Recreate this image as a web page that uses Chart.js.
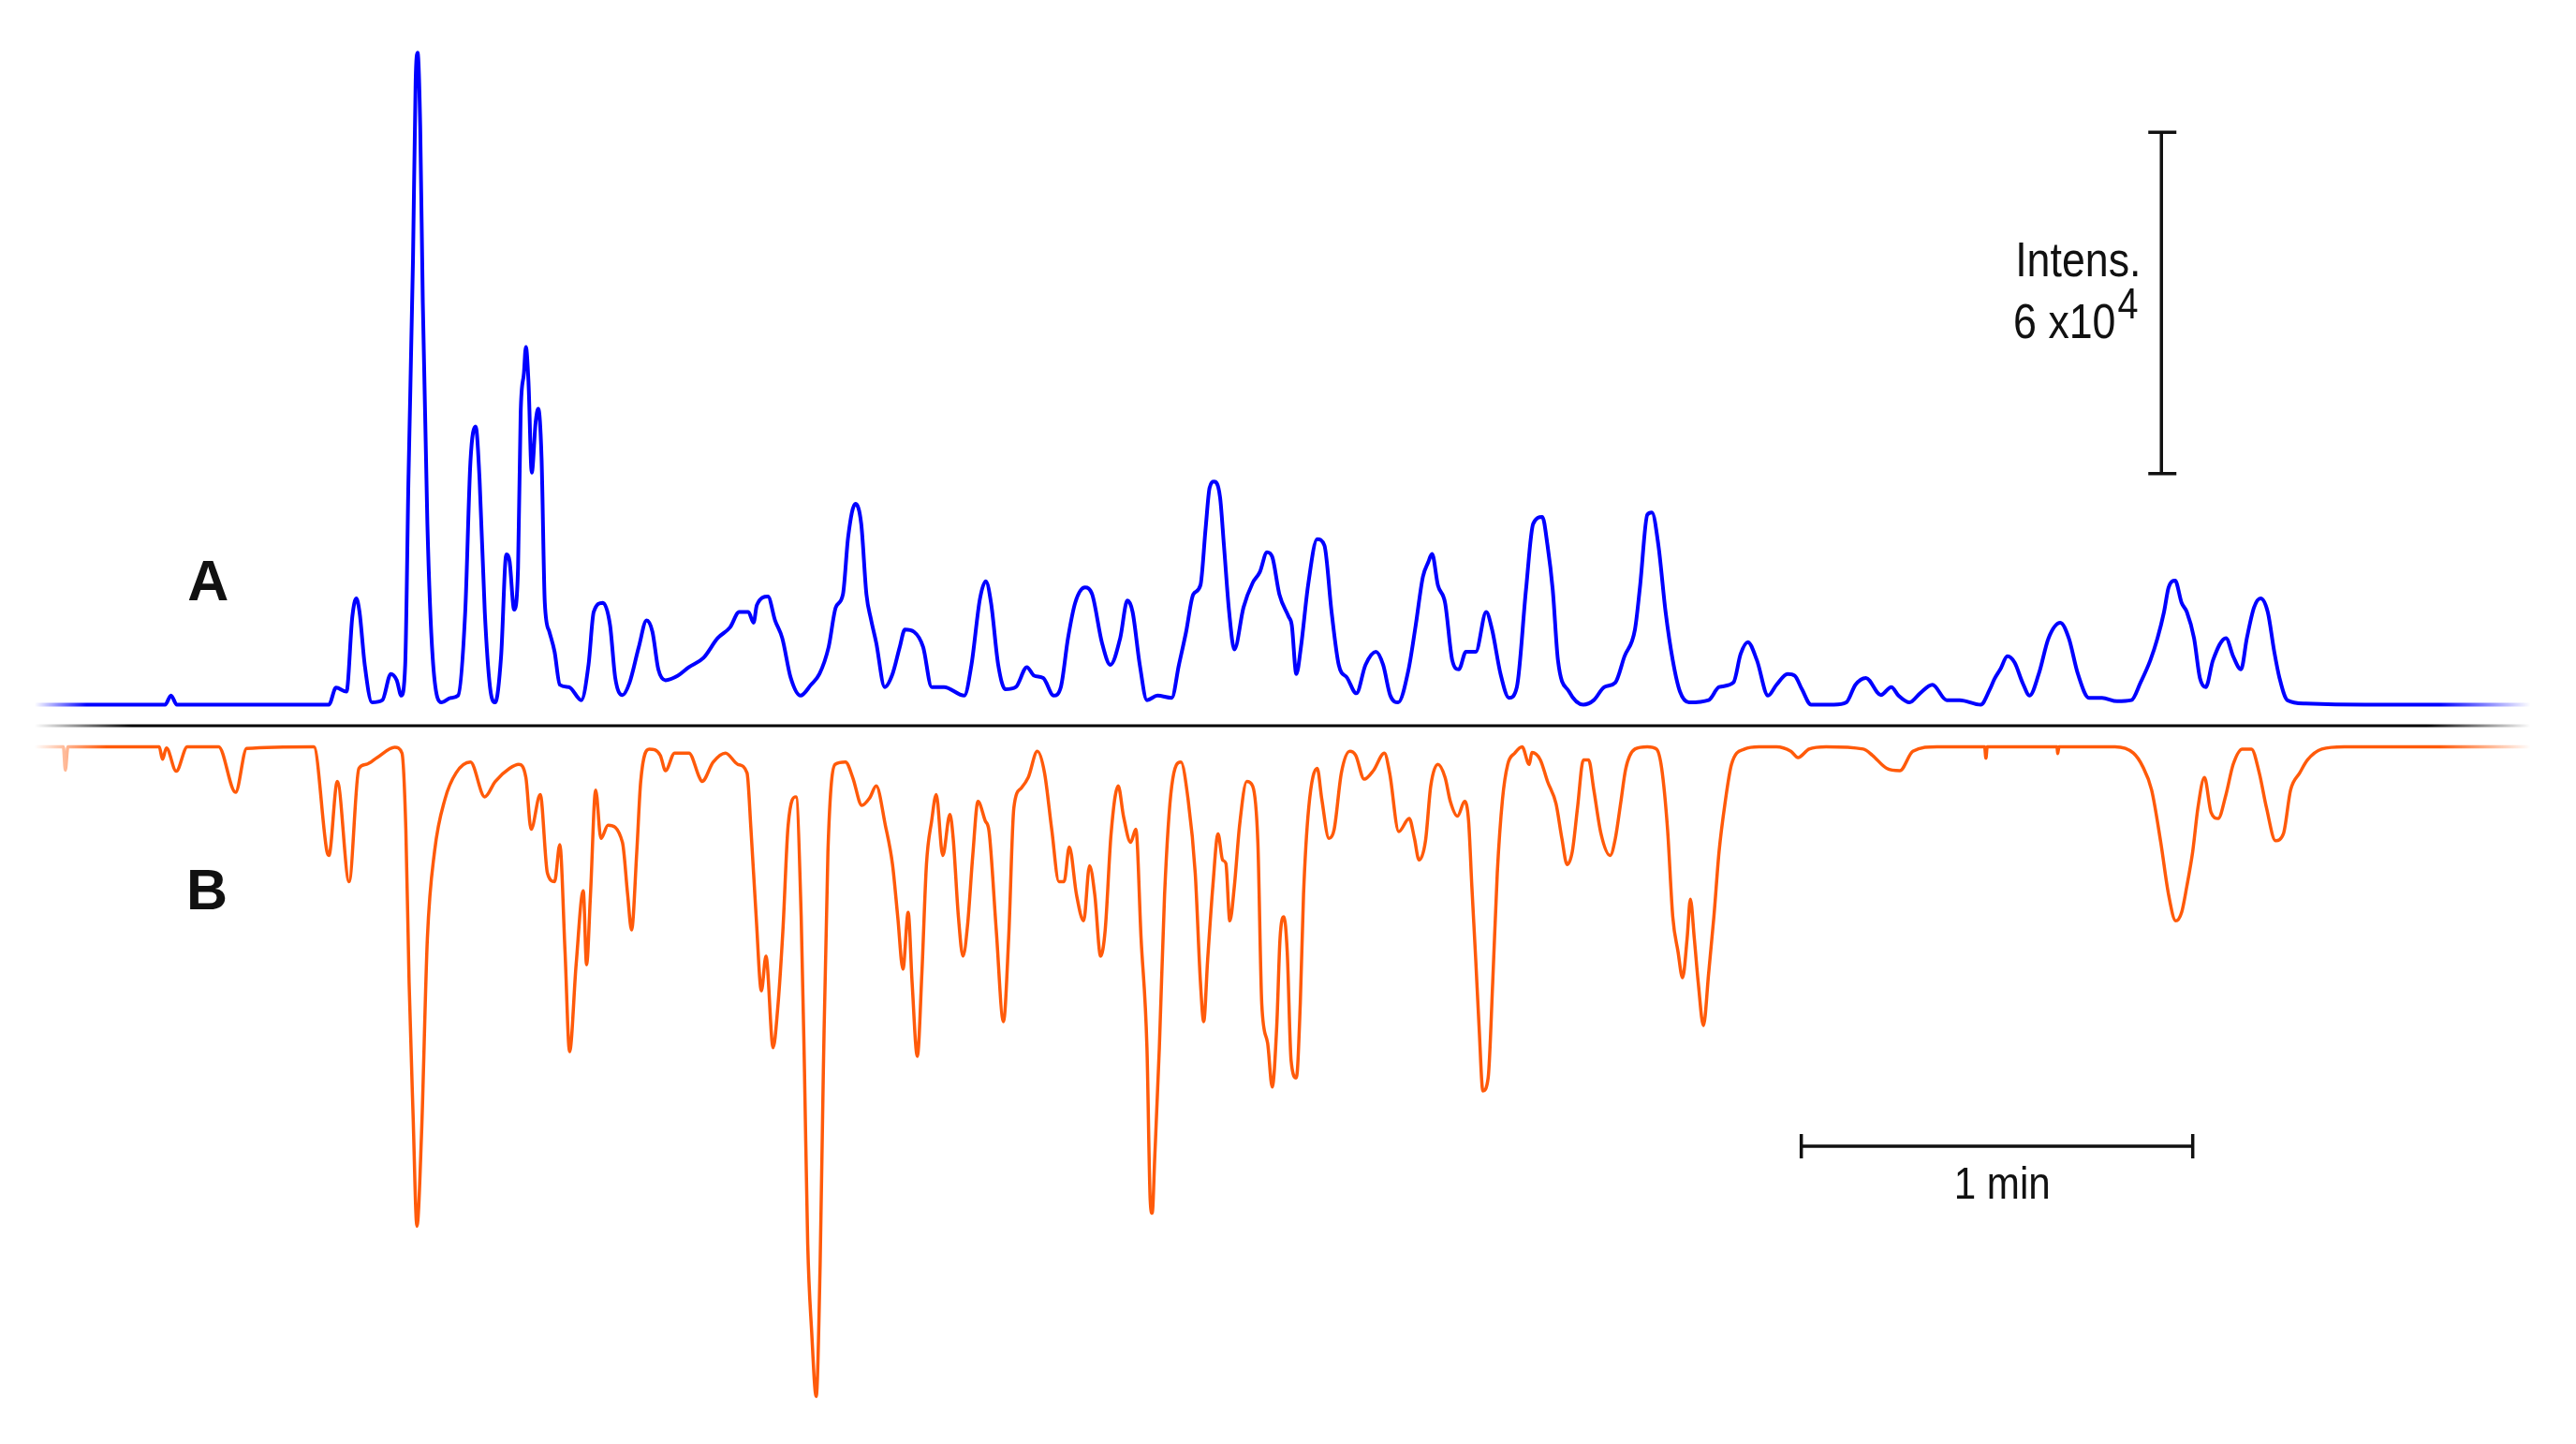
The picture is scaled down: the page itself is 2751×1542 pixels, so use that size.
<!DOCTYPE html>
<html>
<head>
<meta charset="utf-8">
<title>Chromatogram A / B</title>
<script src="https://cdn.jsdelivr.net/npm/chart.js@4.4.1/dist/chart.umd.min.js"></script>
<style>
  html, body { margin: 0; padding: 0; background: #fff; overflow: hidden; }
  #wrap { position: relative; width: 2751px; height: 1542px; }
</style>
</head>
<body>
<div id="wrap"><canvas id="chrom"></canvas></div>
<script>
// retention time in seconds, intensity in units of 10^4 counts

// trace A (upper, blue)
const timeA = [
  0, 7, 20.0, 20.9, 21.8, 45.1, 46.2, 47.8, 48.7, 49.3,
  49.8, 50.6, 51.7, 53.3, 54.6, 55.5, 56.2, 56.8, 57.3, 58.0,
  58.4, 58.7, 59.1, 59.5, 60.2, 61.0, 62.4, 63.8, 64.9, 66.0,
  66.8, 67.6, 68.2, 69.0, 69.8, 70.6, 71.5, 72.3, 72.8, 73.5,
  74.1, 74.5, 75.0, 75.3, 75.7, 76.2, 76.8, 77.2, 77.7, 78.2,
  78.9, 79.7, 80.5, 81.9, 83.8, 84.9, 85.7, 87.1, 88.2, 89.0,
  90.1, 91.2, 92.6, 93.8, 94.7, 95.6, 96.7, 98.6, 100.3, 102.5,
  104.7, 106.6, 108.0, 109.4, 110.2, 110.7, 112.4, 113.5, 114.6, 115.9,
  117.4, 119.0, 120.3, 121.7, 122.8, 123.9, 124.7, 125.8, 126.7, 127.5,
  128.2, 129.0, 130.3, 131.5, 132.6, 133.4, 134.8, 136.2, 137.5, 139.4,
  142.5, 143.6, 144.9, 145.8, 146.6, 147.7, 148.8, 150.4, 152.1, 153.2,
  154.6, 156.2, 157.3, 158.4, 159.5, 161.0, 162.1, 163.6, 164.9, 166.4,
  167.5, 168.3, 169.4, 170.5, 172.1, 174.3, 175.4, 176.5, 177.6, 178.7,
  179.5, 180.1, 180.8, 181.7, 182.3, 183.1, 183.9, 185.3, 186.7, 187.8,
  188.9, 189.7, 190.8, 192.2, 192.7, 193.4, 194.1, 195.2, 196.6, 197.7,
  198.8, 199.9, 201.2, 202.6, 204.0, 205.6, 206.7, 207.8, 209.0, 210.6,
  211.7, 212.8, 213.6, 214.2, 215.1, 216.2, 217.3, 218.3, 219.4, 220.9,
  222.5, 223.4, 224.7, 226.0, 227.2, 228.6, 229.7, 231.1, 231.9, 232.7,
  233.5, 235.2, 237.4, 239.0, 240.6, 242.3, 243.7, 245.3, 246.1, 247.2,
  247.9, 248.9, 250.0, 251.1, 252.2, 253.6, 256.6, 258.2, 260.4, 261.5,
  262.6, 264.0, 265.7, 267.0, 268.7, 269.8, 270.9, 272.3, 275.8, 277.7,
  279.1, 280.7, 283.0, 284.6, 285.7, 287.4, 289.0, 290.9, 293.1, 295.1,
  298.3, 299.7, 300.4, 301.3, 302.4, 303.5, 304.7, 305.8, 307.2, 308.7,
  310.5, 311.8, 313.2, 314.9, 316.9, 319.2, 321.4, 322.8, 324.3, 325.4,
  326.4, 327.1, 328.1, 329.1, 329.9, 331.0, 331.9, 332.8, 333.9, 335.9,
  337.0, 338.2, 339.1, 340.2, 341.2, 342.3, 343.3, 344.1, 345.3, 348.1,
  357.2, 382.6
];
const intensA = [
  0, 0, 0, 0.16, 0, 0, 0.30, 0.23, 1.55, 1.87,
  1.63, 0.70, 0.04, 0.08, 0.54, 0.43, 0.16, 0.70, 3.96, 7.85,
  10.95, 11.46, 10.18, 7.07, 3.18, 0.85, 0.04, 0.12, 0.16, 1.63,
  4.27, 4.89, 3.96, 1.63, 0.31, 0.04, 0.85, 2.64, 2.52, 1.67,
  2.41, 5.13, 5.83, 6.29, 5.67, 4.08, 4.97, 5.20, 4.35, 1.79,
  1.28, 0.93, 0.35, 0.31, 0.08, 0.70, 1.63, 1.79, 1.40, 0.47,
  0.17, 0.39, 1.01, 1.48, 1.28, 0.62, 0.43, 0.51, 0.66, 0.82,
  1.17, 1.36, 1.63, 1.63, 1.44, 1.75, 1.90, 1.48, 1.17, 0.47,
  0.16, 0.35, 0.54, 1.01, 1.71, 1.94, 2.95, 3.53, 3.18, 1.94,
  1.50, 1.09, 0.31, 0.54, 1.01, 1.32, 1.28, 1.01, 0.31, 0.31,
  0.16, 0.70, 1.86, 2.17, 1.79, 0.70, 0.27, 0.31, 0.66, 0.51,
  0.47, 0.16, 0.31, 1.17, 1.79, 2.06, 1.94, 1.09, 0.70, 1.17,
  1.83, 1.63, 0.70, 0.08, 0.16, 0.12, 0.70, 1.28, 1.94, 2.10,
  3.11, 3.81, 3.92, 3.65, 2.80, 1.63, 0.97, 1.71, 2.14, 2.33,
  2.68, 2.60, 1.94, 1.55, 1.40, 0.54, 1.01, 2.10, 2.91, 2.80,
  1.63, 0.70, 0.47, 0.20, 0.70, 0.93, 0.70, 0.16, 0.04, 0.62,
  1.40, 2.25, 2.50, 2.65, 2.10, 1.79, 0.78, 0.62, 0.93, 0.93,
  1.63, 1.32, 0.54, 0.12, 0.31, 2.02, 3.18, 3.30, 2.80, 2.02,
  0.78, 0.23, 0, 0.08, 0.31, 0.39, 0.85, 1.32, 2.10, 3.34,
  3.38, 2.80, 1.63, 0.78, 0.23, 0.04, 0.08, 0.31, 0.39, 0.89,
  1.10, 0.78, 0.16, 0.35, 0.54, 0.51, 0.27, 0, 0, 0.04,
  0.35, 0.47, 0.17, 0.31, 0.16, 0.04, 0.20, 0.35, 0.08, 0.08,
  0, 0.27, 0.45, 0.62, 0.85, 0.74, 0.39, 0.16, 0.54, 1.17,
  1.44, 1.17, 0.54, 0.12, 0.12, 0.06, 0.08, 0.39, 0.78, 1.17,
  1.63, 2.06, 2.18, 1.79, 1.63, 1.17, 0.47, 0.31, 0.78, 1.17,
  0.85, 0.62, 1.17, 1.71, 1.87, 1.63, 0.93, 0.47, 0.08, 0.02,
  0, 0
];

// trace B (lower, orange, drawn mirrored)
const timeB = [
  0, 4.4, 4.7, 5.1, 19.1, 19.6, 20.2, 21.7, 23.4, 28.2,
  30.8, 32.5, 42.8, 44.8, 45.1, 46.4, 48.2, 49.7, 50.8, 52.5,
  55.2, 56.3, 56.9, 57.4, 58.0, 58.6, 59.3, 60.2, 61.3, 62.9,
  64.6, 66.8, 69.0, 70.6, 72.8, 74.2, 75.3, 76.1, 77.5, 78.6,
  79.7, 80.5, 81.3, 82.0, 83.0, 84.1, 84.6, 85.2, 86.0, 86.8,
  87.9, 90.1, 90.9, 91.5, 92.3, 92.9, 94.2, 95.9, 96.7, 98.1,
  100.3, 101.9, 102.3, 104.0, 105.9, 107.8, 109.2, 109.8, 110.6, 111.4,
  112.1, 113.2, 113.9, 114.7, 115.5, 116.7, 117.5, 118.0, 118.5, 119.1,
  119.8, 120.4, 120.9, 121.6, 122.7, 124.3, 125.4, 126.8, 128.0, 129.0,
  130.4, 131.5, 132.3, 133.1, 133.9, 134.5, 135.3, 136.0, 136.7, 137.5,
  138.2, 139.2, 140.3, 140.8, 141.6, 142.3, 143.0, 143.8, 144.6, 145.7,
  146.3, 147.4, 148.5, 149.3, 150.1, 151.2, 152.3, 153.7, 154.8, 155.9,
  157.0, 157.8, 158.6, 159.7, 160.8, 161.7, 162.5, 163.4, 164.1, 165.0,
  166.1, 166.9, 168.0, 168.8, 169.6, 170.5, 171.0, 171.3, 171.7, 172.4,
  173.2, 174.3, 175.7, 176.8, 177.9, 178.7, 179.2, 179.8, 180.6, 181.4,
  182.1, 182.6, 183.2, 183.9, 184.7, 185.8, 186.7, 187.5, 188.1, 189.0,
  189.7, 190.4, 190.9, 191.5, 192.0, 192.6, 193.4, 194.0, 194.5, 195.3,
  196.6, 197.3, 198.4, 199.2, 200.3, 201.6, 202.5, 203.8, 205.2, 206.9,
  207.7, 209.1, 210.7, 211.5, 212.2, 213.2, 214.0, 215.1, 216.2, 217.0,
  218.1, 219.2, 219.8, 220.3, 220.9, 221.4, 222.0, 222.8, 223.5, 224.2,
  225.0, 225.8, 226.9, 228.0, 229.1, 229.5, 230.8, 231.9, 233.2, 234.1,
  234.9, 235.7, 236.5, 237.4, 238.2, 239.0, 240.1, 241.5, 242.3, 243.1,
  243.9, 245.3, 247.2, 248.6, 249.4, 250.3, 251.1, 251.9, 252.6, 253.3,
  253.8, 254.4, 255.0, 255.8, 256.6, 257.4, 258.2, 259.1, 260.1, 262.1,
  264.3, 267.0, 269.2, 270.3, 272.0, 274.6, 280.3, 281.7, 283.9, 285.9,
  287.9, 291.6, 298.9, 299.1, 299.3, 310.0, 310.1, 310.3, 318.9, 321.7,
  323.1, 324.5, 325.9, 327.1, 328.2, 329.1, 329.9, 330.8, 331.6, 332.6,
  333.6, 334.7, 335.9, 337.0, 338.4, 339.8, 341.0, 342.1, 343.5, 344.7,
  345.8, 347.2, 348.4, 350.6, 354.0, 382.6
];
const intensB = [
  0, 0, 0.41, 0, 0, 0.22, 0.02, 0.43, 0, 0,
  0.80, 0.03, 0, 1.84, 1.91, 0.61, 2.37, 0.38, 0.31, 0.19,
  0.01, 0.11, 1.45, 4.14, 6.44, 8.43, 6.82, 3.37, 1.84, 0.92,
  0.46, 0.27, 0.88, 0.61, 0.38, 0.31, 0.54, 1.45, 0.84, 2.22,
  2.37, 1.72, 3.60, 5.36, 3.83, 2.53, 3.83, 2.60, 0.76, 1.61,
  1.38, 1.68, 2.60, 3.22, 1.84, 0.61, 0.04, 0.15, 0.42, 0.11,
  0.11, 0.54, 0.61, 0.27, 0.11, 0.31, 0.46, 1.45, 2.99, 4.29,
  3.68, 5.29, 4.60, 3.22, 1.38, 0.88, 2.99, 5.67, 8.74, 10.27,
  11.42, 9.12, 5.67, 1.84, 0.31, 0.27, 0.54, 1.03, 0.90, 0.69,
  1.38, 2.07, 2.99, 3.91, 2.91, 4.14, 5.44, 3.98, 2.07, 1.30,
  0.84, 1.91, 1.19, 1.61, 2.99, 3.68, 3.14, 1.91, 0.96, 1.30,
  1.49, 3.22, 4.83, 3.37, 1.07, 0.73, 0.54, 0.08, 0.46, 1.45,
  2.37, 2.37, 1.76, 2.60, 3.06, 2.09, 2.60, 3.68, 3.22, 1.53,
  0.69, 1.22, 1.68, 1.45, 3.37, 5.29, 7.97, 8.20, 7.20, 5.29,
  2.60, 0.69, 0.27, 0.92, 2.22, 4.14, 4.83, 3.75, 2.45, 1.53,
  1.99, 2.05, 3.06, 2.45, 1.38, 0.61, 0.69, 1.68, 4.52, 5.21,
  5.98, 4.90, 3.37, 2.99, 3.60, 5.52, 5.82, 4.52, 2.60, 1.07,
  0.38, 0.92, 1.61, 1.45, 0.46, 0.08, 0.15, 0.57, 0.42, 0.11,
  0.46, 1.49, 1.26, 1.61, 1.99, 1.65, 0.69, 0.31, 0.54, 0.96,
  1.22, 0.96, 1.30, 2.45, 3.75, 4.90, 6.05, 5.82, 4.14, 2.22,
  0.92, 0.31, 0.11, 0, 0.31, 0.10, 0.23, 0.61, 1.00, 1.61,
  2.07, 1.84, 1.07, 0.23, 0.23, 0.76, 1.53, 1.91, 1.61, 1.00,
  0.38, 0.04, 0, 0.04, 0.38, 1.45, 2.99, 3.60, 4.06, 3.37,
  2.68, 3.37, 4.14, 4.90, 3.98, 2.99, 1.84, 1.00, 0.31, 0.04,
  0, 0, 0.08, 0.19, 0.04, 0, 0.04, 0.15, 0.38, 0.42,
  0.08, 0, 0, 0.20, 0, 0, 0.12, 0, 0, 0.11,
  0.34, 0.76, 1.68, 2.60, 3.06, 2.91, 2.45, 1.84, 1.07, 0.54,
  1.15, 1.26, 0.84, 0.31, 0.04, 0.04, 0.46, 1.07, 1.65, 1.53,
  0.76, 0.46, 0.23, 0.04, 0, 0
];

// separator line and scale bars
const axisTimes = [0, 382.6];
const axisValues = [0, 0];
const intensBar = 6;     // x10^4
const timeBar = 60;      // seconds = 1 min

const traceOffset = 0.37;   // gap between the two baselines and the centre line
const traceEnd = 382.6;

function fadeStroke(rgb, fadeIn, fadeOut) {
  return (ctx) => {
    const chart = ctx.chart;
    const xs = chart.scales.x;
    const solid = `rgb(${rgb})`;
    if (!xs) return solid;
    const x0 = xs.getPixelForValue(0);
    const x1 = xs.getPixelForValue(traceEnd);
    if (!isFinite(x0) || !isFinite(x1) || x1 <= x0) return solid;
    const g = chart.ctx.createLinearGradient(x0, 0, x1, 0);
    g.addColorStop(0, `rgba(${rgb},0)`);
    g.addColorStop(fadeIn / traceEnd, `rgba(${rgb},1)`);
    g.addColorStop(1 - fadeOut / traceEnd, `rgba(${rgb},1)`);
    g.addColorStop(1, `rgba(${rgb},0)`);
    return g;
  };
}

// squeezed text like the original figure lettering
function squeezeText(ctx, text, x, y, size, bold, align) {
  ctx.save();
  ctx.font = `${bold ? "bold " : ""}${size}px "Liberation Sans", Arial, sans-serif`;
  ctx.fillStyle = "#111";
  ctx.textBaseline = "alphabetic";
  ctx.translate(x, y);
  const sx = bold ? 1 : 0.86;
  ctx.scale(sx, 1);
  ctx.textAlign = align || "left";
  ctx.fillText(text, 0, 0);
  const w = ctx.measureText(text).width * sx;
  ctx.restore();
  return w;
}

const overlay = {
  id: "overlay",
  afterDatasetsDraw(chart) {
    const ctx = chart.ctx;
    const xs = chart.scales.x, ys = chart.scales.y;
    ctx.save();
    ctx.strokeStyle = "#111";
    ctx.lineWidth = 3.5;

    // intensity scale bar
    const bx = xs.getPixelForValue(326.0);
    const bTop = ys.getPixelForValue(4.43 + intensBar);
    const bBot = ys.getPixelForValue(4.43);
    ctx.beginPath();
    ctx.moveTo(bx, bTop); ctx.lineTo(bx, bBot);
    ctx.moveTo(bx - 14, bTop); ctx.lineTo(bx + 16, bTop);
    ctx.moveTo(bx - 14, bBot); ctx.lineTo(bx + 16, bBot);
    ctx.stroke();

    // time scale bar
    const tl = xs.getPixelForValue(270.8);
    const tr = xs.getPixelForValue(270.8 + timeBar);
    const ty = ys.getPixelForValue(-7.39);
    ctx.beginPath();
    ctx.moveTo(tl, ty); ctx.lineTo(tr, ty);
    ctx.moveTo(tl, ty - 13); ctx.lineTo(tl, ty + 13);
    ctx.moveTo(tr, ty - 13); ctx.lineTo(tr, ty + 13);
    ctx.stroke();
    ctx.restore();

    // labels
    squeezeText(ctx, "A", xs.getPixelForValue(26.6), ys.getPixelForValue(2.21), 61, true, "center");
    squeezeText(ctx, "B", xs.getPixelForValue(26.4), ys.getPixelForValue(-3.23), 61, true, "center");
    squeezeText(ctx, "Intens.", xs.getPixelForValue(303.6), ys.getPixelForValue(7.90), 52);
    const px = xs.getPixelForValue(303.3);
    const w = squeezeText(ctx, "6 x10", px, ys.getPixelForValue(6.81), 52);
    squeezeText(ctx, "4", px + w + 2, ys.getPixelForValue(7.16), 46);
    squeezeText(ctx, "1 min", xs.getPixelForValue(301.6), ys.getPixelForValue(-8.31), 49, false, "center");
  }
};

const dataA = timeA.map((t, i) => ({ x: t, y: traceOffset + intensA[i] }));
const dataB = timeB.map((t, i) => ({ x: t, y: -(traceOffset + intensB[i]) }));
const dataAxis = axisTimes.map((t, i) => ({ x: t, y: axisValues[i] }));

new Chart(document.getElementById("chrom"), {
  type: "line",
  data: {
    datasets: [
      {
        label: "A",
        data: dataA,
        borderColor: fadeStroke("0,0,255", 8, 14),
        borderWidth: 4,
        pointRadius: 0,
        cubicInterpolationMode: "monotone"
      },
      {
        label: "B",
        data: dataB,
        borderColor: fadeStroke("255,90,10", 11, 14),
        borderWidth: 3.5,
        pointRadius: 0,
        cubicInterpolationMode: "monotone"
      },
      {
        label: "axis",
        data: dataAxis,
        borderColor: fadeStroke("0,0,0", 15, 16),
        borderWidth: 3,
        pointRadius: 0
      }
    ]
  },
  options: {
    responsive: true,
    maintainAspectRatio: false,
    animation: false,
    devicePixelRatio: 1,
    layout: { padding: 0 },
    plugins: { legend: { display: false }, tooltip: { enabled: false } },
    scales: {
      x: { type: "linear", min: -5.31, max: 389.55, display: false },
      y: { min: -12.626, max: 12.757, display: false }
    }
  },
  plugins: [overlay]
});
</script>
</body>
</html>
